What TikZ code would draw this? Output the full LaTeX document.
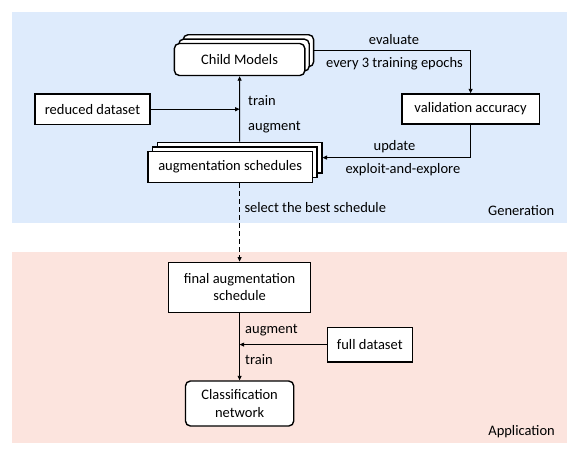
\documentclass[tikz,border=0pt]{standalone}
\usepackage{fontspec}
\setmainfont{Carlito}
\usetikzlibrary{arrows.meta, positioning, calc}
\definecolor{genblue}{HTML}{DEEBFC}
\definecolor{apppink}{HTML}{FCE4DE}

\begin{document}
\begin{tikzpicture}[x=1pt, y=-1pt,
  every node/.style={font=\fontsize{14.5}{17.4}\selectfont},
  box/.style 2 args={rectangle, draw=black, fill=white, line width=1.4pt, minimum width=#1, minimum height=#2, align=center, inner sep=1pt},
  roundbox/.style 2 args={box={#1}{#2}, rounded corners=5pt},
  lbl/.style={inner sep=0pt},
  arr/.style={-{Triangle[length=4.5pt, width=4pt]}, line width=0.9pt},
]
\useasboundingbox (0,0) rectangle (581,456);

% Panels
\fill[genblue] (11.7,11.7) rectangle (566.7,222.5);
\fill[apppink] (11.7,252) rectangle (566.7,443.3);

% Child models (stacked)
\foreach \k in {2,1}
  \node[roundbox={130.5pt}{32pt}] (child\k) at ({239.6+4.4*\k}, {59.5-4.4*\k}) {};
\node[roundbox={130.5pt}{32pt}] (child) at (239.6, 59.5) {Child Models};

% Augmentation schedules (stacked)
\foreach \k in {2,1}
  \node[box={164.4pt}{30.6pt}] (sched\k) at ({230.2+4.7*\k}, {167-4.7*\k}) {};
\node[box={164.4pt}{30.6pt}] (sched) at (230.2, 167) {augmentation schedules};

% Other boxes
\node[box={115pt}{30.3pt}] (reduced) at (92.5, 109.2) {reduced dataset};
\node[box={137.6pt}{30pt}] (val) at (470.6, 109) {validation accuracy};
\node[box={142pt}{50pt}] (final) at (239.6, 287.3) {final augmentation\\schedule};
\node[box={85pt}{34.6pt}] (full) at (369.8, 344.6) {full dataset};
\node[roundbox={108.3pt}{45pt}] (class) at (239.6, 403.5) {Classification\\network};

% Arrows
\draw[arr] (child2.east) -| (val.north);
\draw[arr] (val.south) |- (sched2.east);
\draw[arr] (sched2.north) -- (child.south);
\draw[arr] (reduced.east) -- (reduced.east -| child.south);
\draw[arr, dash pattern=on 5pt off 3pt] (final.north |- sched.south) -- (final.north);
\draw[arr] (final.south) -- (class.north);
\draw[arr] (full.west) -- (full.west -| final.south);

% Labels
\node[lbl, anchor=base] (evl) at (394, 44.3) {evaluate};
\node[lbl, anchor=base] (evr) at (394.5, 67) {every 3 training epochs};
\node[lbl, anchor=base] (upd) at (394.5, 150.5) {update};
\node[lbl, anchor=base] (exp) at (403, 173.5) {exploit-and-explore};
\node[lbl, anchor=base west] (trn) at (248, 105) {train};
\node[lbl, anchor=base west] (aug) at (248, 130) {augment};
\node[lbl, anchor=base west] (sel) at (244.3, 212.5) {select the best schedule};
\node[lbl, anchor=base west] (aug2) at (245, 333) {augment};
\node[lbl, anchor=base west] (trn2) at (245, 364) {train};
\node[lbl, anchor=base east] (gen) at (554.5, 215.5) {Generation};
\node[lbl, anchor=base east] (app) at (555, 435) {Application};

\end{tikzpicture}
\end{document}
